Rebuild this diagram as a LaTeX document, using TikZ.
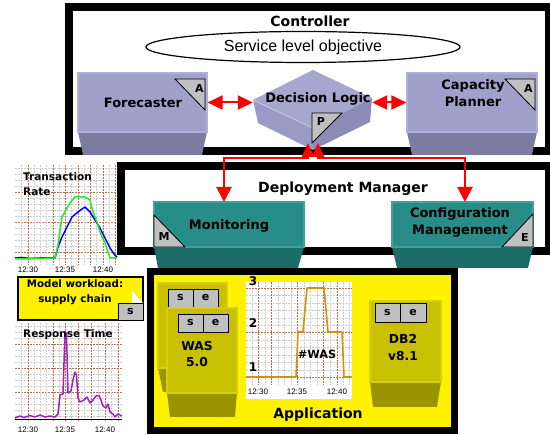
\documentclass[tikz,border=0pt]{standalone}
\usepackage{fontspec}
\setmainfont{DejaVu Sans}
\newfontfamily\arialf{Liberation Sans}
\usetikzlibrary{arrows.meta,shapes.geometric}
\definecolor{lavface}{RGB}{160,160,202}
\definecolor{lavrim}{RGB}{176,176,214}
\definecolor{lavbase}{RGB}{124,124,160}
\definecolor{dltop}{RGB}{166,166,206}
\definecolor{dlleft}{RGB}{154,154,196}
\definecolor{dlright}{RGB}{140,140,182}
\definecolor{tealface}{RGB}{40,140,136}
\definecolor{tealbase}{RGB}{28,108,104}
\definecolor{oliveface}{RGB}{200,192,0}
\definecolor{oliverim}{RGB}{212,206,20}
\definecolor{olivebase}{RGB}{154,148,0}
\definecolor{taggray}{RGB}{192,192,192}
\definecolor{gridbrown}{RGB}{184,110,80}
\definecolor{gridgray}{RGB}{205,205,205}
\definecolor{curveorange}{RGB}{216,144,0}
\definecolor{curvegreen}{RGB}{40,232,40}
\definecolor{curvepurple}{RGB}{160,32,192}
\tikzset{
  frame/.style={draw=black, line width=8pt},
  lavfront/.style={fill=lavface, draw=lavrim, line width=1.2pt, inner sep=0pt},
  tealfront/.style={fill=tealface, draw=tealface!85!white, line width=1.2pt, inner sep=0pt},
  olivefront/.style={fill=oliveface, draw=oliverim, line width=1.2pt, inner sep=0pt},
  tag/.style={fill=taggray, draw=black, line width=0.8pt},
  lbl/.style={font=\fontsize{13}{17}\selectfont\bfseries, align=center, inner sep=0pt},
  title/.style={font=\fontsize{14}{17}\selectfont\bfseries, inner sep=0pt},
  small/.style={font=\arialf\fontsize{8}{9}\selectfont, inner sep=0pt},
  chartttl/.style={font=\fontsize{10.5}{15}\selectfont\bfseries, inner sep=0pt, anchor=west},
  redarrow/.style={draw=red, line width=2pt, {Triangle[length=15pt,width=14pt]}-{Triangle[length=15pt,width=14pt]}},
  redlink/.style={draw=red, line width=2pt, {Triangle[length=14pt,width=12pt]}-{Triangle[length=15pt,width=15pt]}},
  gridg/.style={draw=gridgray, line width=0.6pt, dash pattern=on 2pt off 1pt},
  gridb/.style={draw=gridbrown, line width=0.6pt, dash pattern=on 2pt off 1pt},
}
\begin{document}
\begin{tikzpicture}[x=1pt,y=-1pt]
\useasboundingbox (0,0) rectangle (550,435);

% ---------- containers ----------
\draw[frame] (69,7.5) rectangle (549,151);
\node[title] (ctl) at (310,21) {Controller};
\node[draw=black, line width=1.2pt, ellipse, minimum width=314pt, minimum height=31pt, inner sep=0pt,
      font=\arialf\fontsize{16}{18}\selectfont] (slo) at (303,47) {Service level objective};

\draw[frame] (121,166) rectangle (549,251);
\node[title] (dmt) at (343,189) {Deployment Manager};

\draw[frame, fill=yellow, line width=7pt] (150.5,271.5) rectangle (454,430.5);
\node[title] (app) at (318,415) {Application};

% ---------- Forecaster ----------
\fill[lavbase] (78,132) -- (207,132) -- (202,155) -- (83,155) -- cycle;
\node[lavfront, minimum width=129pt, minimum height=59pt] (fc) at (142.5,102.5) {};
\node[lbl] (fct) at (143,103) {Forecaster};
\draw[tag] (175,79) -- (205,79) -- (205,110) -- cycle;
\node[lbl, font=\fontsize{11}{12}\selectfont\bfseries] (fca) at (199.5,88) {A};

% ---------- Capacity Planner ----------
\fill[lavbase] (407,132) -- (537,132) -- (532,155) -- (412,155) -- cycle;
\node[lavfront, minimum width=130pt, minimum height=59pt] (cp) at (472,102.5) {};
\node[lbl] (cpt) at (473,93.5) {Capacity\\Planner};
\draw[tag] (505,79) -- (535,79) -- (535,110) -- cycle;
\node[lbl, font=\fontsize{11}{12}\selectfont\bfseries] (cpa) at (528.5,88) {A};

% ---------- Decision Logic ----------
\node[inner sep=0pt, minimum width=119pt, minimum height=80pt] (dl) at (312.5,110) {};
\fill[dltop] (313,70) -- (372,98) -- (313,128) -- (253,100) -- cycle;
\fill[dlleft] (253,100) -- (313,128) -- (313,150) -- (258,123) -- cycle;
\fill[dlright] (313,128) -- (372,98) -- (370,122) -- (313,150) -- cycle;
\draw[dltop!60!white, line width=0.8pt] (253,100) -- (313,128);
\node[lbl] (dlt) at (318,99) {Decision Logic};
\draw[tag] (312,113) -- (342,113) -- (312,143) -- cycle;
\node[lbl, font=\fontsize{11}{12}\selectfont\bfseries] (dlp) at (321,121.5) {P};

% ---------- Monitoring ----------
\fill[tealbase] (154,247) -- (304,247) -- (298,268) -- (158,268) -- cycle;
\node[tealfront, minimum width=150pt, minimum height=45pt] (mon) at (229,224.5) {};
\node[lbl] (mont) at (229,226) {Monitoring};
\draw[tag] (154,215) -- (154,247) -- (185,247) -- cycle;
\node[lbl, font=\fontsize{11}{12}\selectfont\bfseries] (monm) at (164,236.5) {M};

% ---------- Configuration Management ----------
\fill[tealbase] (392,247) -- (533,247) -- (528,268) -- (397,268) -- cycle;
\node[tealfront, minimum width=141pt, minimum height=45pt] (cfg) at (462.5,224.5) {};
\node[lbl] (cfgt) at (460,222) {Configuration\\Management};
\draw[tag] (533,214) -- (533,247) -- (502,247) -- cycle;
\node[lbl, font=\fontsize{11}{12}\selectfont\bfseries] (cfge) at (525,237) {E};

% ---------- red connectors ----------
\coordinate (dlL) at (308,143);
\coordinate (dlR) at (318,143);
\coordinate (bus) at (313,158);
\coordinate (monin) at (224,202);
\coordinate (cfgin) at (465,202);
\draw[redarrow] (fc.east) -- (fc.east -| dl.west);
\draw[redarrow] (dl.east |- cp.west) -- (cp.west);
\draw[redlink] (dlL) -- (dlL |- bus) -| (monin);
\draw[redlink] (dlR) -- (dlR |- bus) -| (cfgin);

% ---------- WAS servers ----------
\fill[olivebase] (158,368) -- (227,368) -- (222,392) -- (163,392) -- cycle;
\node[olivefront, minimum width=69pt, minimum height=85pt] (wasb) at (192.5,325.5) {};
\draw[tag] (168,289) rectangle (218,307);
\draw[black, line width=0.8pt] (193,289) -- (193,307);
\node[lbl, font=\fontsize{11}{12}\selectfont\bfseries] (wasbs) at (180.5,298) {s};
\node[lbl, font=\fontsize{11}{12}\selectfont\bfseries] (wasbe) at (205.5,298) {e};

\fill[olivebase] (167,393) -- (237,393) -- (235,417) -- (170,417) -- cycle;
\node[olivefront, minimum width=70pt, minimum height=85pt] (was) at (202,350.5) {};
\draw[tag] (178,314) rectangle (228,332);
\draw[black, line width=0.8pt] (203,314) -- (203,332);
\node[lbl, font=\fontsize{11}{12}\selectfont\bfseries] (wass) at (190.5,323) {s};
\node[lbl, font=\fontsize{11}{12}\selectfont\bfseries] (wase) at (215.5,323) {e};
\node[lbl, font=\fontsize{12.3}{16}\selectfont\bfseries] (wast) at (197,354) {WAS\\5.0};

% ---------- DB2 ----------
\fill[olivebase] (370,382) -- (441,382) -- (437,407) -- (373,407) -- cycle;
\node[olivefront, minimum width=71pt, minimum height=81pt] (db) at (405.5,341.5) {};
\draw[tag] (375,303) rectangle (426,322);
\draw[black, line width=0.8pt] (400,303) -- (400,322);
\node[lbl, font=\fontsize{11}{12}\selectfont\bfseries] (dbs) at (387.5,312.5) {s};
\node[lbl, font=\fontsize{11}{12}\selectfont\bfseries] (dbe) at (413,312.5) {e};
\node[lbl, font=\fontsize{12.3}{17}\selectfont\bfseries] (dbt) at (403,347.5) {DB2\\v8.1};

% ---------- #WAS chart ----------
\fill[white] (246,282) rectangle (352,399);
\foreach \y in {295,303,310,318,325,340,347,355,362,370} \draw[gridg] (246,\y) -- (352,\y);
\foreach \x in {252,265,278,284,291,304,310,317,330,343,349} \draw[gridg] (\x,282) -- (\x,385);
\foreach \y in {288,332,377} \draw[gridb] (246,\y) -- (352,\y);
\foreach \x in {258,271.5,297,323.5,337} \draw[gridb] (\x,282) -- (\x,385);
\draw[curveorange, line width=1.6pt, line join=round]
  (246,377) -- (296,377) -- (298,332) -- (303,332) -- (307,288) -- (324,288) -- (328,332)
  -- (342,332) -- (344,377) -- (352,377);
\node[small] (w1230) at (258,392) {12:30};
\node[small] (w1235) at (297,392) {12:35};
\node[small] (w1240) at (337,392) {12:40};
\node[lbl, font=\fontsize{12}{12}\selectfont\bfseries] (w3) at (253,281) {3};
\node[lbl, font=\fontsize{12}{12}\selectfont\bfseries] (w2) at (253,323) {2};
\node[lbl, font=\fontsize{12}{12}\selectfont\bfseries] (w1) at (253,367) {1};
\node[lbl, font=\fontsize{11.3}{12}\selectfont\bfseries] (wcount) at (317,354) {\#WAS};

% ---------- Transaction Rate chart ----------
\fill[white] (15,165) rectangle (117,265);
\foreach \y in {168,174,180,186,198,204,210,216,228,234,240,246,258} \draw[gridg] (15,\y) -- (117,\y);
\foreach \y in {192,222,252} \draw[gridb] (15,\y) -- (117,\y);
\foreach \x in {21.5,34.5,40.5,46.5,59.5,71.5,84.5,96.5,109.5} \draw[gridg] (\x,165) -- (\x,265);
\foreach \x in {28,53,65.5,78,90.5,103,115.5} \draw[gridb] (\x,165) -- (\x,265);
\draw[blue, line width=1.5pt, line join=round]
  (15,258) -- (22,257.5) -- (30,258.5) -- (40,258) -- (55,258) -- (58,247) -- (62,237) -- (67,227)
  -- (72,217) -- (78,212) -- (82,209) -- (85,207) -- (90,212) -- (95,220) -- (100,228) -- (105,238)
  -- (110,248) -- (114,254) -- (117,257);
\draw[curvegreen, line width=1.5pt, line join=round]
  (15,259) -- (25,259) -- (35,258.5) -- (55,258) -- (58,245) -- (62,217) -- (66,210) -- (70,203)
  -- (75,197) -- (85,197) -- (90,200) -- (93,212) -- (97,222) -- (100,232) -- (105,243)
  -- (110,258) -- (117,258);
\node[chartttl] (trt1) at (23,177) {Transaction};
\node[chartttl] (trt2) at (23,192) {Rate};
\node[small] (t1230) at (28,269.5) {12:30};
\node[small] (t1235) at (65,269.5) {12:35};
\node[small] (t1240) at (103,269.5) {12:40};

% ---------- Model workload ----------
\node[fill=yellow, draw=black, line width=1.2pt, minimum width=125pt, minimum height=43pt, inner sep=0pt] (mw) at (80.5,298.5) {};
\node[lbl, font=\fontsize{10.3}{15}\selectfont\bfseries] (mwt) at (75,292.5) {Model workload:\\supply chain};
\fill[white] (132,291) -- (132,303) -- (143,303) -- cycle;
\node[tag, minimum width=25pt, minimum height=17pt, inner sep=0pt, font=\fontsize{11}{12}\selectfont\bfseries] (mws) at (130.5,311.5) {s};

% ---------- Response Time chart ----------
\fill[white] (15,323) rectangle (122,422);
\foreach \y in {326,332,338,350,356,362,374,380,386,398,404,410,416} \draw[gridg] (15,\y) -- (122,\y);
\foreach \y in {344,368,392} \draw[gridb] (15,\y) -- (122,\y);
\foreach \x in {21.5,34.5,40.5,46.5,59.5,71.5,84.5,98.5,111.5} \draw[gridg] (\x,323) -- (\x,422);
\foreach \x in {28,53,65,78,91.5,105,118} \draw[gridb] (\x,323) -- (\x,422);
\draw[black, line width=0.8pt] (15,419.5) -- (122,419.5);
\draw[curvepurple, line width=1.5pt, line join=round]
  (15,418) -- (20,416) -- (24,417.5) -- (30,415.5) -- (35,417) -- (40,415) -- (45,417) -- (50,416)
  -- (55,417) -- (58,414) -- (60,395) -- (63,394) -- (65,332) -- (66.5,334) -- (68,393) -- (71,391)
  -- (73,380) -- (75,372) -- (76.5,375) -- (78,398) -- (80,402) -- (84,400) -- (87,397) -- (90,403)
  -- (93,400) -- (96,396) -- (99,395.5) -- (101,400) -- (103,406) -- (106,408) -- (108,404)
  -- (110,412) -- (113,414) -- (115,417) -- (118,414) -- (122,416);
\node[chartttl] (rtt) at (23,335) {Response Time};
\node[small] (r1230) at (28,430) {12:30};
\node[small] (r1235) at (65,430) {12:35};
\node[small] (r1240) at (105,430) {12:40};
\end{tikzpicture}
\end{document}
